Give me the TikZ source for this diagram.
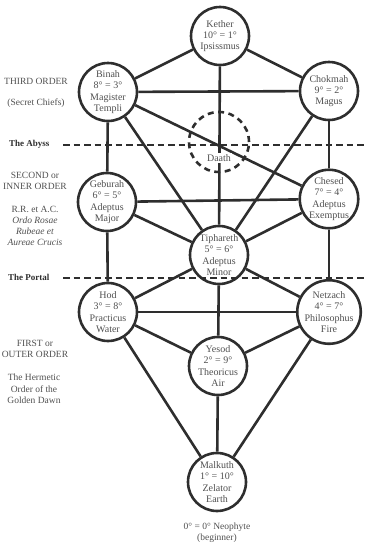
\documentclass[tikz,border=0pt]{standalone}
\usepackage{fontspec}
\setmainfont{Liberation Serif}
\usepackage{tikz}

\definecolor{ink}{HTML}{2E2E2E}
\definecolor{printgray}{HTML}{505050}

\begin{document}
\begin{tikzpicture}[x=1pt, y=-1pt,
		sephira/.style={circle, draw=ink, line width=2.6pt, fill=white, minimum size=58pt,
			inner sep=0pt, align=center, text=printgray, font=\fontsize{10}{11.3}\selectfont},
		veil/.style={circle, draw=ink, line width=2.6pt, dash pattern=on 6pt off 4.5pt,
			minimum size=60pt, inner sep=0pt},
		treepath/.style={draw=ink, line width=2.6pt},
		divide/.style={draw=ink, line width=2.6pt, dash pattern=on 6.5pt off 4pt},
		order/.style={align=center, text=printgray, font=\fontsize{9.5}{11.5}\selectfont},
		gate/.style={anchor=east, text=ink, font=\fontsize{9}{11}\selectfont\bfseries}]
	\useasboundingbox (0,0) rectangle (378,549);
	
	% The Sephiroth
	\node[sephira] (kether) at (220,36) {Kether\\10° = 1°\\Ipsissmus};
	\node[sephira] (binah) at (108,92) {Binah\\8° = 3°\\Magister\\Templi};
	\node[sephira] (chokmah) at (329,91) {Chokmah\\9° = 2°\\Magus};
	\node[veil] (daath) at (219,142) {};
	\node[sephira] (geburah) at (107,202) {Geburah\\6° = 5°\\Adeptus\\Major};
	\node[sephira] (chesed) at (329,199) {Chesed\\7° = 4°\\Adeptus\\Exemptus};
	\node[sephira] (tiphareth) at (219,255) {Tiphareth\\5° = 6°\\Adeptus\\Minor};
	\node[sephira] (hod) at (108,312) {Hod\\3° = 8°\\Practicus\\Water};
	\node[sephira] (netzach) at (329,312) {Netzach\\4° = 7°\\Philosophus\\Fire};
	\node[sephira] (yesod) at (218,366) {Yesod\\2° = 9°\\Theoricus\\Air};
	\node[sephira] (malkuth) at (217,482) {Malkuth\\1° = 10°\\Zelator\\Earth};
	
	% The paths between them
	\draw[treepath] (kether) -- (binah);
	\draw[treepath] (kether) -- (chokmah);
	\draw[treepath] (kether) -- (tiphareth);
	\draw[treepath] (binah) -- (chokmah);
	\draw[treepath] (binah) -- (geburah);
	\draw[treepath] (binah) -- (tiphareth);
	\draw[treepath] (binah) -- (chesed);
	\draw[treepath] (chokmah) -- (chesed);
	\draw[treepath] (chokmah) -- (tiphareth);
	\draw[treepath] (geburah) -- (chesed);
	\draw[treepath] (geburah) -- (tiphareth);
	\draw[treepath] (chesed) -- (tiphareth);
	\draw[treepath] (geburah) -- (hod);
	\draw[treepath] (chesed) -- (netzach);
	\draw[treepath] (tiphareth) -- (hod);
	\draw[treepath] (tiphareth) -- (netzach);
	\draw[treepath] (tiphareth) -- (yesod);
	\draw[treepath] (hod) -- (netzach);
	\draw[treepath] (hod) -- (yesod);
	\draw[treepath] (netzach) -- (yesod);
	\draw[treepath] (hod) -- (malkuth);
	\draw[treepath] (netzach) -- (malkuth);
	\draw[treepath] (yesod) -- (malkuth);
	
	\node[fill=white, inner sep=1pt, text=printgray, font=\fontsize{10}{11}\selectfont] (daathname) at (219,158) {Daath};
	
	% The Abyss and the Portal
	\coordinate (abyssW) at (63,145);
	\coordinate (abyssE) at (366,145);
	\coordinate (portalW) at (63,278);
	\coordinate (portalE) at (364,278);
	\draw[divide] (abyssW) -- (abyssE);
	\draw[divide] (portalW) -- (portalE);
	\node[gate] (abyss) at (53,144) {The Abyss};
	\node[gate] (portal) at (53,277) {The Portal};
	
	% The three orders
	\node[order] (third) at (36,81) {THIRD ORDER};
	\node[order] (chiefs) at (36,103) {(Secret Chiefs)};
	\node[order] (second) at (35,181) {SECOND or\\INNER ORDER};
	\node[order, font=\fontsize{9.5}{11}\selectfont] (rrac) at (35,225.5) {R.R. et A.C.\\\textit{Ordo Rosae}\\\textit{Rubeae et}\\\textit{Aureae Crucis}};
	\node[order] (first) at (35,349) {FIRST or\\OUTER ORDER};
	\node[order] (golden) at (34,389) {The Hermetic\\Order of the\\Golden Dawn};
	
	\node[order] (neophyte) at (217,532.5) {0° = 0° Neophyte\\(beginner)};
\end{tikzpicture}
\end{document}
